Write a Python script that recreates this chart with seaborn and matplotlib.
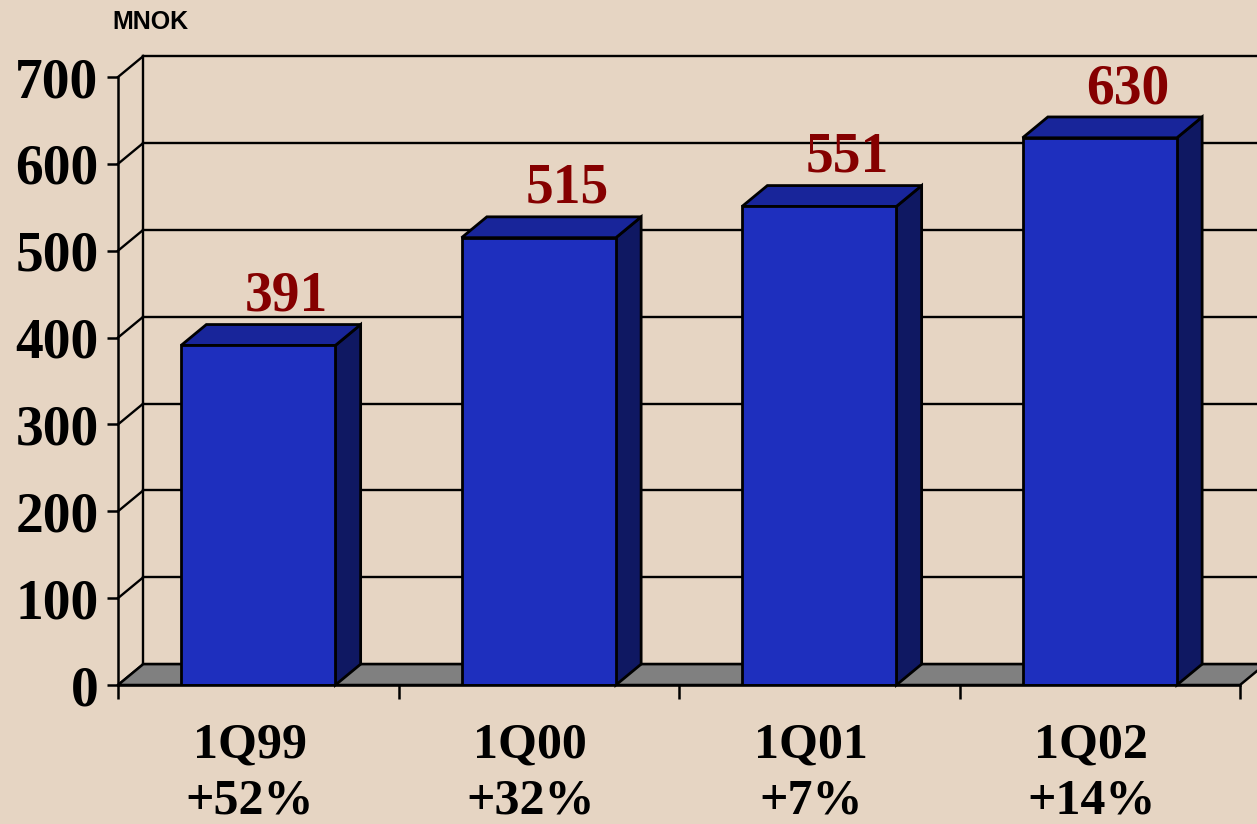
import matplotlib
matplotlib.use("Agg")
import matplotlib.pyplot as plt
import seaborn as sns
from matplotlib.patches import Polygon

# data
quarters = ['1Q99', '1Q00', '1Q01', '1Q02']
growth = ['+52%', '+32%', '+7%', '+14%']
revenue = [391, 515, 551, 630]
y_ticks = [0, 100, 200, 300, 400, 500, 600, 700]

bg = '#E6D5C3'
front = '#1E2FBE'
side = '#0F1862'
top = '#18259A'
floor = '#808080'
label_red = '#850000'

serif = ['Liberation Serif', 'DejaVu Serif']

fig = plt.figure(figsize=(12.57, 8.24), dpi=100, facecolor=bg)
ax = fig.add_axes([118 / 1257, 139 / 824, 1 - 118 / 1257, 608 / 824])
ax.set_facecolor('none')

# pseudo 3D depth (data units)
dx = 0.09
dy = 24
x_left, x_right = -0.5, len(quarters) - 0.5

sns.barplot(x=quarters, y=revenue, color=front, width=0.55, saturation=1,
            edgecolor='black', linewidth=2, ax=ax, zorder=5)

ax.set_xlim(-0.5, -0.5 + (1257 - 118) / 280.5)
ax.set_ylim(0, 700)

# back wall + side wall grid
for g in y_ticks:
    ax.plot([x_left + dx, 10], [g + dy, g + dy], color='black', lw=1.7,
            zorder=1, clip_on=False)
    ax.plot([x_left, x_left + dx], [g, g + dy], color='black', lw=1.7,
            zorder=1, clip_on=False)
ax.plot([x_left + dx, x_left + dx], [dy, y_ticks[-1] + dy], color='black',
        lw=1.7, zorder=1, clip_on=False)

# floor
ax.add_patch(Polygon([(x_left, 0), (x_right, 0), (x_right + dx, dy),
                      (x_left + dx, dy)], closed=True, facecolor=floor,
                     edgecolor='black', lw=1.8, zorder=2, clip_on=False))

# side and top faces of the bars
for bar, v in zip(ax.patches[:len(revenue)], revenue):
    x0 = bar.get_x()
    x1 = x0 + bar.get_width()
    ax.add_patch(Polygon([(x1, 0), (x1, v), (x1 + dx, v + dy), (x1 + dx, dy)],
                         closed=True, facecolor=side, edgecolor='black',
                         lw=2, zorder=4, clip_on=False))
    ax.add_patch(Polygon([(x0, v), (x1, v), (x1 + dx, v + dy), (x0 + dx, v + dy)],
                         closed=True, facecolor=top, edgecolor='black',
                         lw=2, zorder=4, clip_on=False))
    ax.text((x0 + x1) / 2 + dx + 0.01, v + dy + 16, str(v), ha='center',
            va='baseline', color=label_red, fontsize=40, fontweight='bold',
            family=serif, clip_on=False)

# axes styling
for s in ['top', 'right']:
    ax.spines[s].set_visible(False)
ax.spines['left'].set_linewidth(1.8)
ax.spines['bottom'].set_linewidth(1.8)
ax.spines['bottom'].set_bounds(x_left, x_right)
ax.spines['left'].set_zorder(6)
ax.spines['bottom'].set_zorder(6)

ax.set_yticks(y_ticks)
ax.set_yticklabels([str(t) for t in y_ticks], fontsize=40, fontweight='bold',
                   family=serif)
ax.tick_params(axis='y', direction='out', length=8, width=1.8, pad=6)

# category labels sit slightly left of the category centre in the original
ax.set_xticks([i - 0.03 for i in range(len(quarters))])
ax.set_xticklabels([f'{q}\n{g}' for q, g in zip(quarters, growth)],
                   fontsize=36, fontweight='bold', family=serif, linespacing=1.3)
ax.set_xticks([x_left + i for i in range(len(quarters) + 1)], minor=True)
ax.tick_params(axis='x', which='major', length=0, pad=27)
ax.tick_params(axis='x', which='minor', direction='out', length=10, width=1.8)
ax.set_xlabel('')
ax.set_ylabel('')

fig.text(150 / 1257, 1 - 22 / 824, 'MNOK', ha='center', va='center',
         fontsize=18, fontweight='bold', family=['Liberation Sans', 'DejaVu Sans'])

fig.savefig('out.png', dpi=100, facecolor=bg)
